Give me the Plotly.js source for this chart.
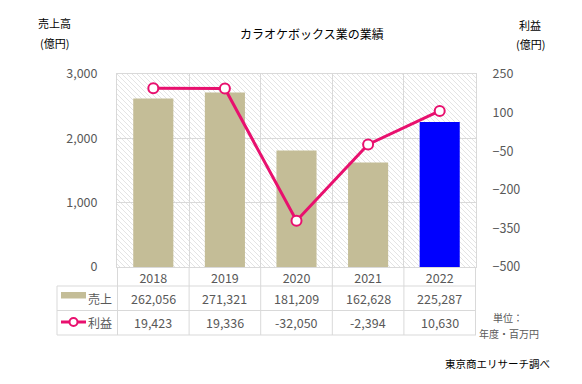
<!DOCTYPE html>
<html><head><meta charset="utf-8">
<script src="https://cdn.plot.ly/plotly-3.0.1.min.js"></script>
<style>html,body{margin:0;padding:0;background:#fff}#c{width:582px;height:384px}</style>
</head><body><div id="c"></div>
<script>
// Data (units: 百万円 in the table; plotted in 億円)
const years = ['2018', '2019', '2020', '2021', '2022'];
const salesMM = [262056, 271321, 181209, 162628, 225287];
const profitMM = [19423, 19336, -32050, -2394, 10630];
const barColors = ['#c4bd97', '#c4bd97', '#c4bd97', '#c4bd97', '#0000ff'];

const salesOku = salesMM.map(v => v / 100);
const profitOku = profitMM.map(v => v / 100);

const W = 582, H = 384, L = 117, R = 476, T = 74, B = 267;
const px = x => (x - L) / (R - L);
const py = y => (B - y) / (B - T);
const fmt = v => v.toLocaleString('en-US');
const FONT = '"Noto Sans CJK JP", "Noto Sans", sans-serif';
const GRAY = '#595959';
const LINE = '#d9d9d9';
const PINK = '#e8106e';

const hatchSvg = `<svg xmlns="http://www.w3.org/2000/svg" width="${R-L}" height="${B-T}"><defs><pattern id="p" width="5" height="5" patternUnits="userSpaceOnUse"><path d="M-1,-1 L6,6 M-1,4 L1,6 M4,-1 L6,1" stroke="#d8d8d8" stroke-width="0.7"/></pattern></defs><rect width="100%" height="100%" fill="url(#p)"/></svg>`;

const traces = [
  {
    type: 'bar', x: years, y: salesOku, name: '売上',
    marker: {color: barColors}, width: 0.56, hoverinfo: 'skip'
  },
  {
    type: 'scatter', mode: 'lines+markers', x: years, y: profitOku, name: '利益',
    yaxis: 'y2',
    line: {color: PINK, width: 3},
    marker: {size: 10, color: '#ffffff', line: {color: PINK, width: 2}},
    hoverinfo: 'skip', cliponaxis: false
  }
];

const shapes = [];
const annotations = [];
// table horizontal lines
[286, 310.5, 335].forEach(y => shapes.push({
  type: 'line', xref: 'paper', yref: 'paper', x0: px(57), x1: 1, y0: py(y), y1: py(y),
  line: {color: LINE, width: 1}
}));
// table left border
shapes.push({type: 'line', xref: 'paper', yref: 'paper', x0: px(57), x1: px(57), y0: py(286), y1: py(335), line: {color: LINE, width: 1}});
// category boundaries through table
for (let i = 0; i <= years.length; i++) {
  shapes.push({type: 'line', xref: 'x', yref: 'paper', x0: i - 0.5, x1: i - 0.5, y0: 0, y1: py(335), line: {color: LINE, width: 1}});
}
// legend symbols
shapes.push({type: 'rect', xref: 'paper', yref: 'paper', x0: px(61), x1: px(86), y0: py(292), y1: py(298.5), fillcolor: '#c4bd97', line: {width: 0}});
shapes.push({type: 'line', xref: 'paper', yref: 'paper', x0: px(61), x1: px(86), y0: py(322), y1: py(322), line: {color: PINK, width: 3}});
shapes.push({type: 'circle', xref: 'paper', yref: 'paper', xsizemode: 'pixel', ysizemode: 'pixel',
  xanchor: px(73.5), yanchor: py(322), x0: -4, x1: 4, y0: -4, y1: 4,
  fillcolor: '#ffffff', line: {color: PINK, width: 2}});

// table values
years.forEach((yr, i) => {
  annotations.push({xref: 'x', yref: 'paper', x: i, y: py(298), text: fmt(salesMM[i]), showarrow: false,
    font: {family: FONT, size: 12.5, color: GRAY}, yanchor: 'middle'});
  annotations.push({xref: 'x', yref: 'paper', x: i, y: py(322), text: fmt(profitMM[i]), showarrow: false,
    font: {family: FONT, size: 12.5, color: GRAY}, yanchor: 'middle'});
});
// row labels
annotations.push({xref: 'paper', yref: 'paper', x: px(86), y: py(298), xanchor: 'left', yanchor: 'middle', text: '売上', showarrow: false, font: {family: FONT, size: 12, color: GRAY}});
annotations.push({xref: 'paper', yref: 'paper', x: px(86), y: py(322), xanchor: 'left', yanchor: 'middle', text: '利益', showarrow: false, font: {family: FONT, size: 12, color: GRAY}});

const txt = (x, y, text, size, color, xa) => annotations.push({
  xref: 'paper', yref: 'paper', x: px(x), y: py(y), text, showarrow: false,
  xanchor: xa || 'center', yanchor: 'middle', font: {family: FONT, size, color}
});
txt(312, 34, 'カラオケボックス業の業績', 12, '#000000');
txt(54, 23, '売上高', 11, '#000000');
txt(54, 43, '(億円)', 11, '#000000');
txt(530, 25, '利益', 11, '#000000');
txt(530, 44, '(億円)', 11, '#000000');
txt(508, 317, '単位：', 10, GRAY);
txt(509, 333, '年度・百万円', 10, GRAY);
txt(497, 363, '東京商エリサーチ調べ', 10.5, '#000000');

const layout = {
  width: W, height: H,
  margin: {l: L, r: W - R, t: T, b: H - B, pad: 0},
  paper_bgcolor: '#ffffff', plot_bgcolor: 'rgba(0,0,0,0)',
  showlegend: false,
  bargap: 0.44,
  font: {family: FONT, color: GRAY, size: 12},
  xaxis: {
    type: 'category', tickson: 'boundaries', showgrid: true, gridcolor: LINE, gridwidth: 1,
    showline: true, linecolor: LINE, mirror: true, ticks: '', zeroline: false,
    tickfont: {family: FONT, size: 12.5, color: GRAY}, fixedrange: true
  },
  yaxis: {
    range: [0, 3000], dtick: 1000, tickformat: ',', showgrid: true, gridcolor: LINE,
    showline: true, linecolor: LINE, mirror: true, zeroline: false,
    ticks: 'outside', ticklen: 16, tickcolor: 'rgba(0,0,0,0)',
    tickfont: {family: FONT, size: 12.5, color: GRAY}
  },
  yaxis2: {
    overlaying: 'y', side: 'right', range: [-500, 250], dtick: 150, tick0: 250,
    showgrid: false, zeroline: false, showline: false,
    ticks: 'outside', ticklen: 13, tickcolor: 'rgba(0,0,0,0)',
    tickfont: {family: FONT, size: 12.5, color: GRAY}
  },
  images: [{
    source: 'data:image/svg+xml;charset=utf-8,' + encodeURIComponent(hatchSvg),
    xref: 'paper', yref: 'paper', x: 0, y: 1, sizex: 1, sizey: 1,
    xanchor: 'left', yanchor: 'top', sizing: 'stretch', layer: 'below'
  }],
  shapes, annotations
};

Plotly.newPlot('c', traces, layout, {displayModeBar: false, staticPlot: true});
</script>
</body></html>
